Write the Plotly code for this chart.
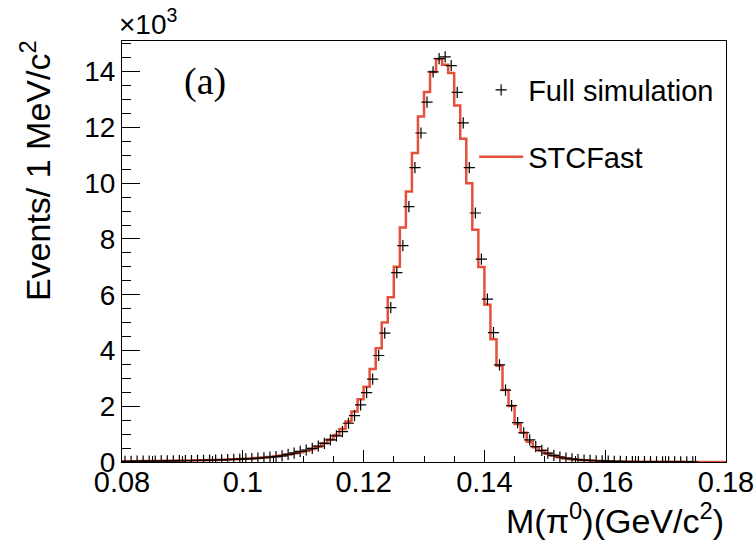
import plotly.graph_objects as go

# 100 bins of 1 MeV from 0.08 to 0.18 GeV/c^2
x_min = 0.08
bin_width = 0.001
n_bins = 100
bin_edges = [round(x_min + i * bin_width, 4) for i in range(n_bins + 1)]
bin_centers = [round(x_min + (i + 0.5) * bin_width, 4) for i in range(n_bins)]

# STCFast histogram (events per bin)
stcfast = [
    25, 28, 30, 32, 35, 38, 40, 43, 46, 50,
    53, 57, 61, 65, 70, 75, 82, 90, 98, 108,
    118, 130, 145, 162, 182, 205, 235, 270, 310, 350,
    395, 465, 550, 670, 810, 970, 1180, 1450, 1810, 2250,
    2700, 3340, 4080, 5000, 5910, 7000, 8410, 9700, 11080, 12390,
    13270, 13990, 14450, 14250, 13950, 12790, 11590, 10000, 8330, 6990,
    5640, 4400, 3450, 2580, 2010, 1360, 1050, 730, 530, 400,
    300, 225, 170, 130, 100, 78, 62, 50, 40, 33,
    27, 22, 19, 16, 14, 12, 10, 9, 8, 7,
    6, 5, 5, 4, 4, 3, 3, 2, 2, 2,
]

# Full simulation (events per bin); no points drawn above 0.175
full_sim = [
    22, 25, 28, 30, 32, 35, 37, 40, 43, 46,
    50, 53, 57, 61, 66, 71, 77, 84, 92, 101,
    111, 123, 137, 153, 172, 195, 222, 270, 320, 380,
    430, 490, 570, 670, 790, 940, 1090, 1390, 1660, 2050,
    2490, 2970, 3820, 4620, 5540, 6790, 7760, 9160, 10560, 11800,
    12910, 13990, 14470, 14530, 14220, 13260, 12160, 10560, 8930, 7280,
    5840, 4640, 3480, 2580, 2020, 1410, 1050, 790, 550, 420,
    320, 240, 180, 140, 110, 85, 68, 55, 45, 37,
    30, 25, 21, 18, 15, 13, 11, 10, 9, 8,
    7, 6, 5, 5, 4, None, None, None, None, None,
]

y_tick_vals = [0, 2000, 4000, 6000, 8000, 10000, 12000, 14000]
y_tick_text = ["0", "2", "4", "6", "8", "10", "12", "14"]
x_tick_vals = [0.08, 0.10, 0.12, 0.14, 0.16, 0.18]
x_tick_text = ["0.08", "0.1", "0.12", "0.14", "0.16", "0.18"]

FONT = "Liberation Sans, Arial, Helvetica, sans-serif"
RED = "#E5503A"

fig = go.Figure()

fig.add_trace(go.Scatter(
    x=bin_edges,
    y=stcfast + [stcfast[-1]],
    mode="lines",
    line=dict(color=RED, width=2.5, shape="hv"),
    name="STCFast",
    legendgroup="b",
    legendrank=2,
))

fig.add_trace(go.Scatter(
    x=bin_centers,
    y=full_sim,
    mode="markers",
    marker=dict(symbol="cross-thin", size=8, line=dict(color="black", width=1.2), color="black"),
    name="Full simulation",
    legendgroup="a",
    legendrank=1,
))

fig.update_layout(
    width=756,
    height=548,
    autosize=False,
    margin=dict(l=122, r=30, t=41, b=86, autoexpand=False),
    paper_bgcolor="white",
    plot_bgcolor="white",
    font=dict(family=FONT, size=27, color="black"),
    showlegend=True,
    legend=dict(
        x=0.583, y=0.944, xanchor="left", yanchor="top",
        bgcolor="rgba(0,0,0,0)",
        font=dict(family=FONT, size=29, color="black"),
        tracegroupgap=26,
        itemwidth=44,
    ),
    xaxis=dict(
        range=[0.08, 0.18],
        tickvals=x_tick_vals,
        ticktext=x_tick_text,
        ticks="inside",
        ticklen=12,
        tickwidth=1,
        tickcolor="black",
        showline=True,
        linecolor="black",
        linewidth=1,
        mirror=True,
        showgrid=False,
        zeroline=False,
        automargin=False,
        ticklabelstandoff=-6,
        tickfont=dict(family=FONT, size=29),
        minor=dict(dtick=0.005, ticks="inside", ticklen=6, tickcolor="black", showgrid=False),
    ),
    yaxis=dict(
        range=[0, 15100],
        tickvals=y_tick_vals,
        ticktext=y_tick_text,
        ticks="inside",
        ticklen=18,
        tickwidth=1,
        tickcolor="black",
        showline=True,
        linecolor="black",
        linewidth=1,
        mirror=True,
        showgrid=False,
        zeroline=False,
        automargin=False,
        tickfont=dict(family=FONT, size=28),
        minor=dict(dtick=500, ticks="inside", ticklen=9, tickcolor="black", showgrid=False),
    ),
    annotations=[
        dict(text="Events/ 1 MeV/c<sup>2</sup>", xref="paper", yref="paper",
             x=-0.144, y=0.691, xanchor="center", yanchor="middle", textangle=-90,
             showarrow=False, font=dict(family=FONT, size=34)),
        dict(text="M(π<sup>0</sup>)(GeV/c<sup>2</sup>)", xref="paper", yref="paper",
             x=1.0, y=-0.135, xanchor="right", yanchor="middle",
             showarrow=False, font=dict(family=FONT, size=34)),
        dict(text="×10<sup>3</sup>", xref="paper", yref="paper",
             x=-0.008, y=1.045, xanchor="left", yanchor="middle",
             showarrow=False, font=dict(family=FONT, size=28)),
        dict(text="(a)", xref="paper", yref="paper",
             x=0.137, y=0.903, xanchor="center", yanchor="middle",
             showarrow=False, font=dict(family="Liberation Serif, Times New Roman, serif", size=38)),
    ],
)

fig.write_html("out.html", config={"displayModeBar": False},
               post_script="document.body.style.margin='0px';")
